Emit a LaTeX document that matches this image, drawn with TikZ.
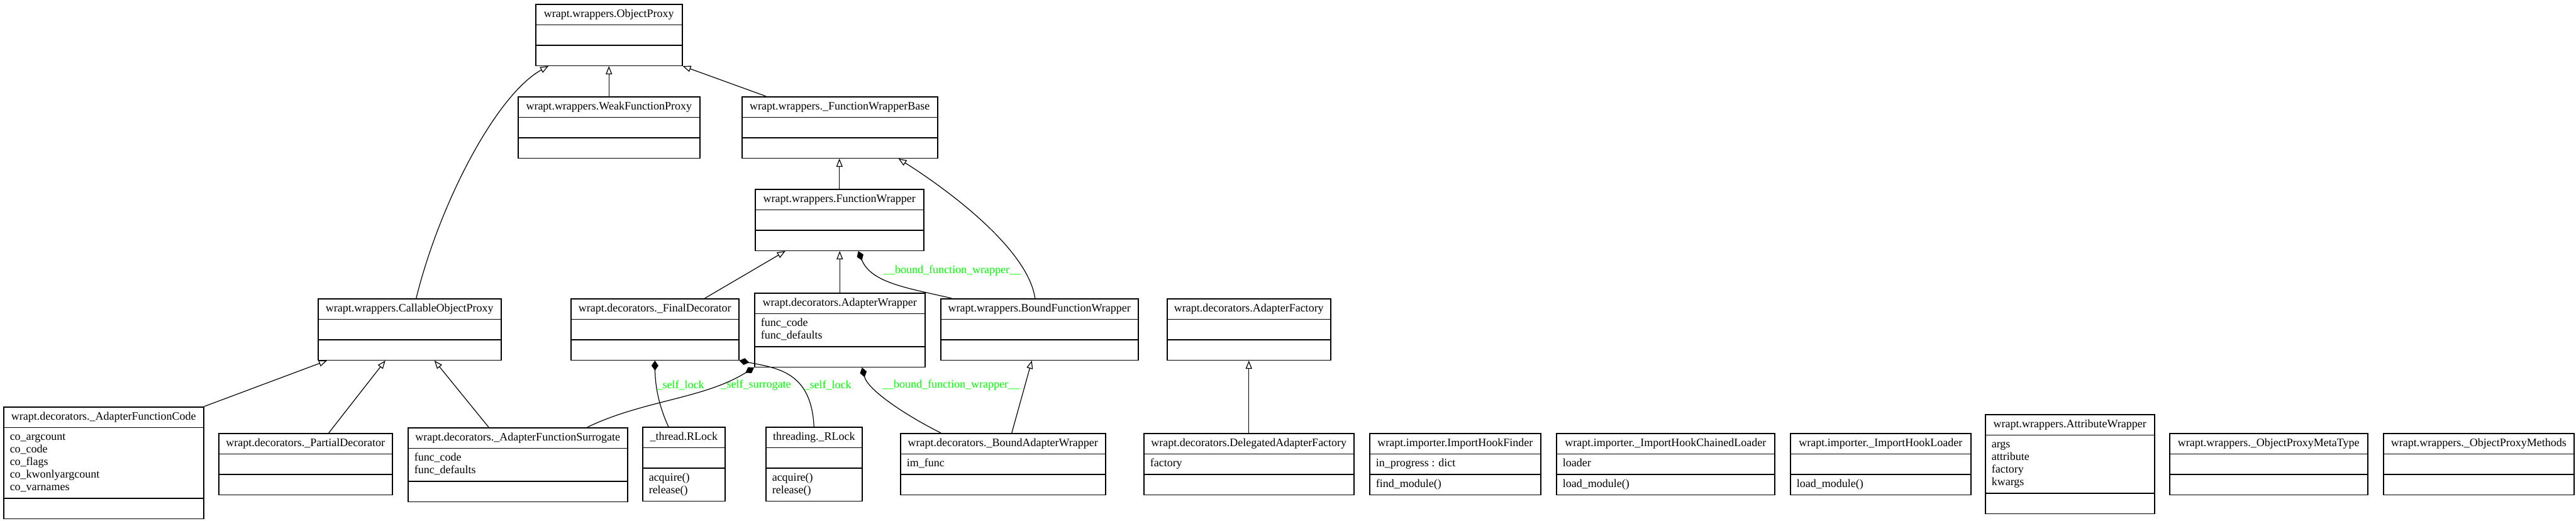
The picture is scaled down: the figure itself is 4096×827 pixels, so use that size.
\documentclass[tikz,border=0pt]{standalone}
\usepackage{fontspec}
\setmainfont{Liberation Serif}
\usetikzlibrary{shapes.multipart, arrows.meta}

\tikzset{
    umlclass/.style={draw, line width=0.75pt, rectangle split, rectangle split parts=3,
        rectangle split part align={center,left,left},
        rectangle split empty part height=7pt, rectangle split empty part depth=3pt,
        align=left, inner xsep=5pt, inner ysep=2.75pt, anchor=north west,
        font=\fontsize{9}{10}\selectfont},
    inherits/.style={-{Triangle[open, length=6.5pt, width=5pt]}, line width=0.6pt},
    owns/.style={{Diamond[length=8pt, width=5.5pt]}-, line width=0.6pt},
    role/.style={text=green, inner sep=0pt, font=\fontsize{9}{10}\selectfont}
}

\begin{document}
\begin{tikzpicture}[x=0.5pt, y=-0.5pt]
    \useasboundingbox[fill=white] (0,0) rectangle (4096,827);

    % Proxy hierarchy
    \node[umlclass, minimum width=116.5pt] (op) at (851,6)
        {\strut wrapt.wrappers.ObjectProxy \nodepart{two} \nodepart{three}};
    \node[umlclass, minimum width=144.5pt] (wfp) at (823,153)
        {\strut wrapt.wrappers.WeakFunctionProxy \nodepart{two} \nodepart{three}};
    \node[umlclass, minimum width=155.5pt] (fwb) at (1179,153)
        {\strut wrapt.wrappers.\_FunctionWrapperBase \nodepart{two} \nodepart{three}};
    \node[umlclass, minimum width=134pt] (fw) at (1200,300)
        {\strut wrapt.wrappers.FunctionWrapper \nodepart{two} \nodepart{three}};
    \node[umlclass, minimum width=145.5pt] (cop) at (505,474)
        {\strut wrapt.wrappers.CallableObjectProxy \nodepart{two} \nodepart{three}};
    \node[umlclass, minimum width=133.5pt] (fd) at (907,474)
        {\strut wrapt.decorators.\_FinalDecorator \nodepart{two} \nodepart{three}};
    \node[umlclass, minimum width=135.5pt] (aw) at (1199,465)
        {\strut wrapt.decorators.AdapterWrapper
         \nodepart{two} \strut func\_code\\\strut func\_defaults \nodepart{three}};
    \node[umlclass, minimum width=157pt] (bfw) at (1495,474)
        {\strut wrapt.wrappers.BoundFunctionWrapper \nodepart{two} \nodepart{three}};
    \node[umlclass, minimum width=130pt] (af) at (1855,474)
        {\strut wrapt.decorators.AdapterFactory \nodepart{two} \nodepart{three}};

    % Bottom row
    \node[umlclass, minimum width=159pt] (afc) at (5,646)
        {\strut wrapt.decorators.\_AdapterFunctionCode
         \nodepart{two} \strut co\_argcount\\\strut co\_code\\\strut co\_flags\\\strut co\_kwonlyargcount\\\strut co\_varnames
         \nodepart{three}};
    \node[umlclass, minimum width=138pt] (pd) at (347,688)
        {\strut wrapt.decorators.\_PartialDecorator \nodepart{two} \nodepart{three}};
    \node[umlclass, minimum width=174.5pt] (afs) at (648,679)
        {\strut wrapt.decorators.\_AdapterFunctionSurrogate
         \nodepart{two} \strut func\_code\\\strut func\_defaults \nodepart{three}};
    \node[umlclass, minimum width=65.5pt] (trl) at (1021,678)
        {\strut \_thread.RLock \nodepart{two} \nodepart{three} \strut acquire()\\\strut release()};
    \node[umlclass, minimum width=76.5pt] (rl) at (1217,678)
        {\strut threading.\_RLock \nodepart{two} \nodepart{three} \strut acquire()\\\strut release()};
    \node[umlclass, minimum width=163pt] (baw) at (1431,688)
        {\strut wrapt.decorators.\_BoundAdapterWrapper \nodepart{two} \strut im\_func \nodepart{three}};
    \node[umlclass, minimum width=167pt] (daf) at (1818,688)
        {\strut wrapt.decorators.DelegatedAdapterFactory \nodepart{two} \strut factory \nodepart{three}};
    \node[umlclass, minimum width=136pt] (ihf) at (2177,688)
        {\strut wrapt.importer.ImportHookFinder
         \nodepart{two} \strut in\_progress : dict \nodepart{three} \strut find\_module()};
    \node[umlclass, minimum width=173.5pt] (ihcl) at (2474,688)
        {\strut wrapt.importer.\_ImportHookChainedLoader
         \nodepart{two} \strut loader \nodepart{three} \strut load\_module()};
    \node[umlclass, minimum width=143.5pt] (ihl) at (2846,688)
        {\strut wrapt.importer.\_ImportHookLoader \nodepart{two} \nodepart{three} \strut load\_module()};
    \node[umlclass, minimum width=134.5pt] (atw) at (3156,658)
        {\strut wrapt.wrappers.AttributeWrapper
         \nodepart{two} \strut args\\\strut attribute\\\strut factory\\\strut kwargs \nodepart{three}};
    \node[umlclass, minimum width=157.5pt] (opmt) at (3449,688)
        {\strut wrapt.wrappers.\_ObjectProxyMetaType \nodepart{two} \nodepart{three}};
    \node[umlclass, minimum width=151.5pt] (opm) at (3789,688)
        {\strut wrapt.wrappers.\_ObjectProxyMethods \nodepart{two} \nodepart{three}};

    % Inheritance
    \draw[inherits] ([xshift=5.25pt]cop.north) .. controls (700,320) and (790,150) .. ([xshift=10.5pt]op.south west);
    \draw[inherits] (wfp.north) -- (op.south);
    \draw[inherits] ([xshift=19.5pt]fwb.north west) -- (op.south east);
    \draw[inherits] (fw.north) -- (fw.north |- fwb.south);
    \draw[inherits] ([xshift=39.75pt]fd.north) -- ([xshift=-43pt]fw.south);
    \draw[inherits] (aw.north) -- (aw.north |- fw.south);
    \draw[inherits] ([xshift=-3.5pt]bfw.north) .. controls (1635,400) and (1520,310) .. ([xshift=-31.5pt]fwb.south east);
    \draw[inherits] (afc.north east) -- ([xshift=7.5pt]cop.south west);
    \draw[inherits] ([xshift=18.5pt]pd.north) -- ([xshift=-19.25pt]cop.south);
    \draw[inherits] ([xshift=64.5pt]afs.north west) -- ([xshift=19.75pt]cop.south);
    \draw[inherits] ([xshift=7pt]baw.north) -- ([xshift=-6pt]bfw.south);
    \draw[inherits] (daf.north) -- (af.south);

    % Composition
    \draw[owns] (fd.south) .. controls (1042,620) and (1050,650) .. ([xshift=-12.25pt]trl.north);
    \node[role] (lock1) at (1082,612) {\_self\_lock};
    \draw[owns] (aw.south west) .. controls (1119,634) and (1023,636) .. ([xshift=55.25pt]afs.north);
    \node[role] (surrogate) at (1202,612) {\_self\_surrogate};
    \draw[owns] (fd.south east) .. controls (1235,585) and (1290,590) .. (rl.north);
    \node[role] (lock2) at (1316,612) {\_self\_lock};
    \draw[owns] ([xshift=17.75pt]aw.south) .. controls (1380,620) and (1440,660) .. ([xshift=32.5pt]baw.north west);
    \node[role] (bound1) at (1512,612) {\_\_bound\_function\_wrapper\_\_};
    \draw[owns] ([xshift=15pt]fw.south) .. controls (1385,450) and (1445,458) .. ([xshift=9pt]bfw.north west);
    \node[role] (bound2) at (1514,430) {\_\_bound\_function\_wrapper\_\_};
\end{tikzpicture}
\end{document}
